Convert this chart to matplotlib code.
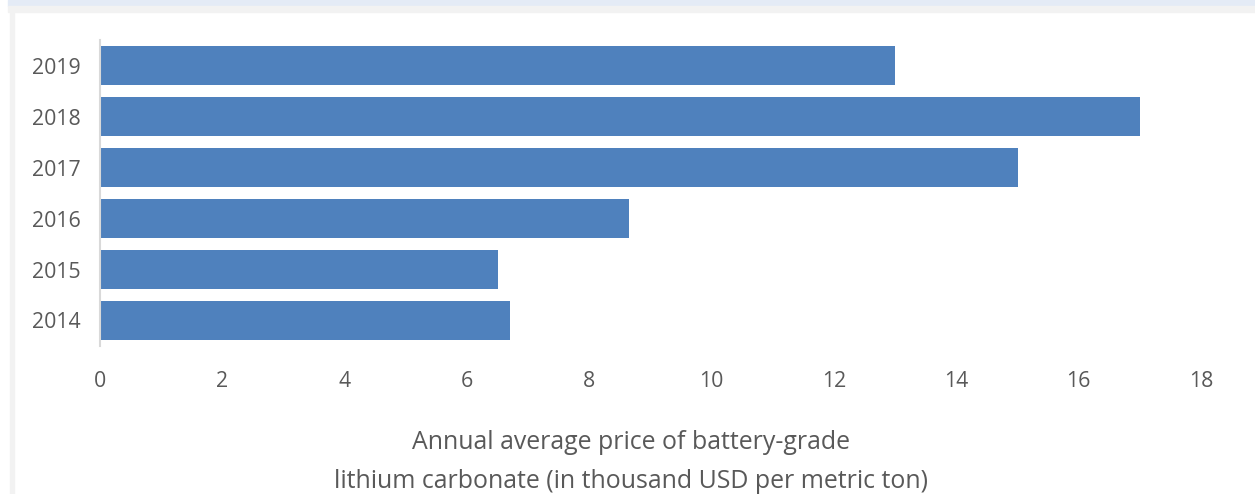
import matplotlib.pyplot as plt
from matplotlib.patches import Rectangle

years = ["2014", "2015", "2016", "2017", "2018", "2019"]
prices = [6.7, 6.5, 8.65, 15.0, 17.0, 13.0]
x_ticks = [0, 2, 4, 6, 8, 10, 12, 14, 16, 18]

BAR_COLOR = "#4f81bd"
TEXT_COLOR = "#595959"
W, H = 1255, 494

plt.rcParams["font.family"] = ["Open Sans", "DejaVu Sans"]

fig = plt.figure(figsize=(W / 100, H / 100), dpi=100)

# frame decorations around the chart area
fig.patches.append(Rectangle((8 / W, 1 - 6 / H), 1, 6 / H, transform=fig.transFigure,
                             color="#e4ebf6", zorder=0))
fig.patches.append(Rectangle((8 / W, 1 - 12 / H), 1, 6 / H, transform=fig.transFigure,
                             color="#f2f2f2", zorder=0))
fig.patches.append(Rectangle((10 / W, 0), 4 / W, 1 - 12 / H, transform=fig.transFigure,
                             color="#f2f2f2", zorder=0))

ax = fig.add_axes([100 / W, 1 - 346 / H, 1101 / W, 306 / H])
ax.barh(years, prices, height=0.78, color=BAR_COLOR)

ax.set_xlim(0, 18)
ax.set_ylim(-0.5, len(years) - 0.5)
ax.set_xticks(x_ticks)
ax.set_xticklabels([str(t) for t in x_ticks])

for side in ("top", "right", "bottom"):
    ax.spines[side].set_visible(False)
ax.spines["left"].set_color("#d9d9d9")
ax.spines["left"].set_linewidth(1.5)

ax.tick_params(axis="both", length=0, labelsize=15.3, colors=TEXT_COLOR)
ax.tick_params(axis="x", pad=18)
ax.tick_params(axis="y", pad=14)

ax.set_xlabel("Annual average price of battery-grade\nlithium carbonate (in thousand USD per metric ton)",
              fontsize=17.9, color=TEXT_COLOR, linespacing=1.78, va="center")
ax.xaxis.set_label_coords(0.4825, -(462 - 346) / 306)

fig.savefig("out.png", dpi=100)
